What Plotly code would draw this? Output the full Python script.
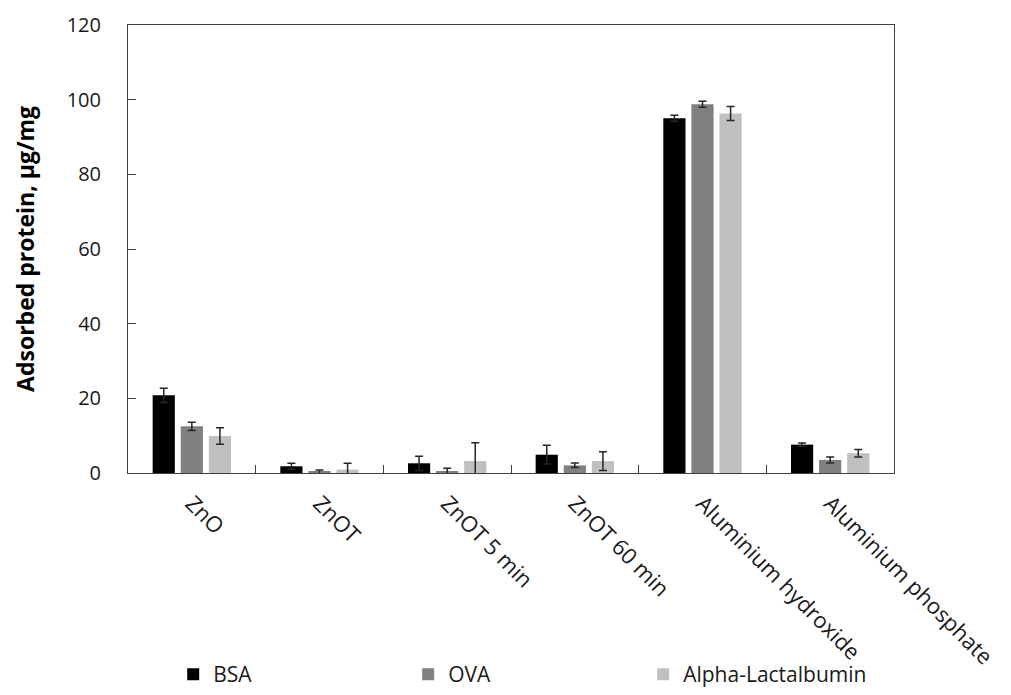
import plotly.graph_objects as go

categories = ["ZnO", "ZnOT", "ZnOT 5 min", "ZnOT 60 min", "Aluminium hydroxide", "Aluminium phosphate"]
bsa = [20.8, 1.8, 2.6, 4.9, 95.0, 7.6]
bsa_err = [1.9, 0.8, 1.9, 2.5, 0.8, 0.45]
ova = [12.5, 0.3, 0.5, 2.05, 98.8, 3.5]
ova_err = [1.1, 0.5, 0.8, 0.6, 0.8, 0.8]
alpha = [9.9, 0.9, 3.2, 3.2, 96.3, 5.3]
alpha_err = [2.2, 1.7, 4.9, 2.5, 1.9, 1.0]

series = [
    ("BSA", bsa, bsa_err, "#000000"),
    ("OVA", ova, ova_err, "#808080"),
    ("Alpha-Lactalbumin", alpha, alpha_err, "#c0c0c0"),
]

FONT = "Open Sans"

fig = go.Figure()
for name, vals, errs, color in series:
    fig.add_trace(go.Bar(
        name=name, x=categories, y=vals,
        marker=dict(color=color, line=dict(width=0)),
        error_y=dict(type="data", array=errs, visible=True, color="#262626", thickness=1.5, width=4),
    ))

fig.update_layout(
    width=1011, height=695,
    margin=dict(l=128, r=117, t=25, b=222, autoexpand=False),
    paper_bgcolor="white", plot_bgcolor="white",
    barmode="group", bargap=0.34, bargroupgap=0.21,
    font=dict(family=FONT, size=18, color="#000000"),
    showlegend=True,
    legend=dict(orientation="h", x=0.059, xanchor="left", y=-0.4955, yanchor="bottom",
                entrywidth=190, entrywidthmode="pixels", font=dict(size=21, family=FONT, color="#1a1a1a"),
                traceorder="normal", borderwidth=0, bgcolor="rgba(0,0,0,0)"),
)
fig.update_xaxes(
    type="category", showline=True, linecolor="#404040", linewidth=1, mirror=True,
    ticks="inside", ticklen=8, tickcolor="#404040", tickson="boundaries",
    tickangle=45, tickfont=dict(size=22, family=FONT, color="#1a1a1a"), showgrid=False,
    automargin=False, ticklabelstandoff=8,
)
fig.update_yaxes(
    range=[0, 120], dtick=20, showline=True, linecolor="#404040", linewidth=1, mirror=True,
    ticks="inside", ticklen=8, tickcolor="#404040", showgrid=False, zeroline=False,
    tickfont=dict(size=20, family=FONT, color="#1a1a1a"), ticklabelstandoff=22, automargin=False,
    title=dict(text="<b>Adsorbed protein, µg/mg</b>", font=dict(size=23, family=FONT), standoff=25),
)

fig.write_html("out.html")
